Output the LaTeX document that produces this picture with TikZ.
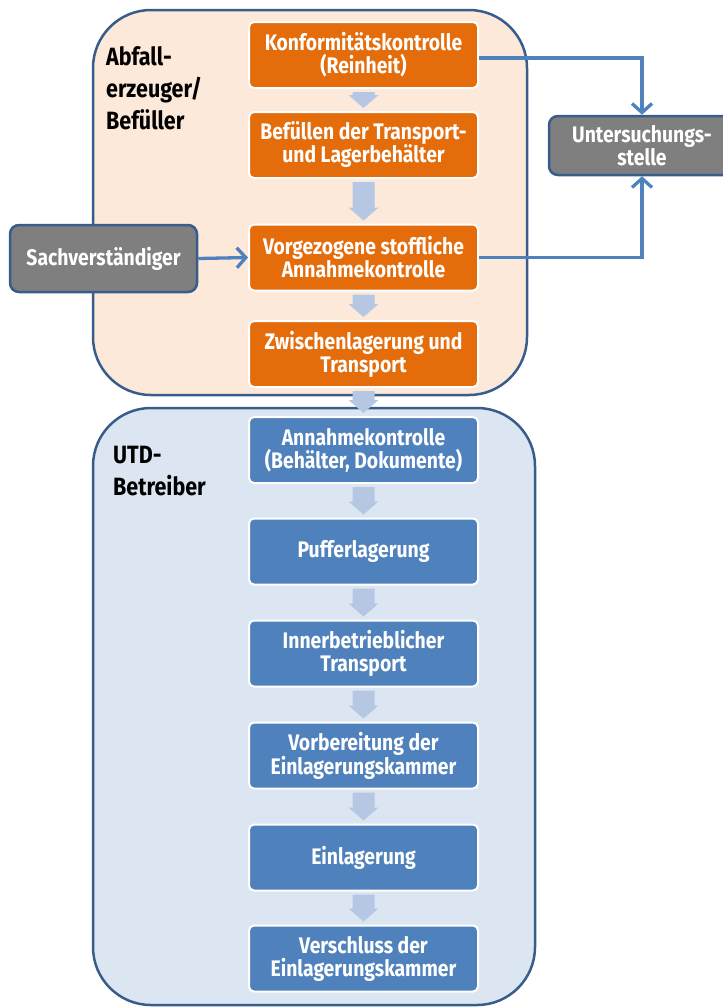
\documentclass[tikz,border=0pt]{standalone}
\usepackage{fontspec}
\setmainfont[FakeStretch=0.86]{Fira Sans}
\usetikzlibrary{arrows.meta, calc}
\definecolor{framecolor}{RGB}{56,93,138}
\definecolor{peachcolor}{RGB}{253,233,217}
\definecolor{paleblue}{RGB}{220,230,242}
\definecolor{orangecolor}{RGB}{228,108,10}
\definecolor{stepblue}{RGB}{79,129,189}
\definecolor{greycolor}{RGB}{127,127,127}
\definecolor{flowfill}{RGB}{181,199,226}

\begin{document}
\begin{tikzpicture}[
    x=1pt, y=-1pt,
    group/.style={draw=framecolor, line width=2.5pt, rounded corners=58pt},
    grouplabel/.style={anchor=north west, align=left, inner sep=0pt, font=\fontsize{25}{32}\selectfont\bfseries},
    stepbox/.style={draw=white, line width=2pt, rounded corners=5pt, minimum width=229pt, minimum height=66pt, align=center, text=white, font=\fontsize{22.5}{23}\selectfont\bfseries},
    orangebox/.style={stepbox, fill=orangecolor},
    bluebox/.style={stepbox, fill=stepblue},
    greybox/.style={draw=framecolor, line width=2.5pt, fill=greycolor, rounded corners=9pt, align=center, text=white, font=\fontsize{22.5}{23}\selectfont\bfseries},
    link/.style={-{Straight Barb[length=9pt, width=20pt]}, draw=stepblue, line width=3.3pt},
    flowarrow/.style={fill=flowfill}
]
    \useasboundingbox (0,0) rectangle (723,1007);

    % Groups
    \draw[group, fill=peachcolor] (93,10) rectangle (527,395);
    \node[grouplabel] (erzeuger) at (106,46) {Abfall-\\erzeuger/\\Befüller};

    \draw[group, fill=paleblue] (93,408) rectangle (535,1005);
    \node[grouplabel] (betreiber) at (113,446) {UTD-\\Betreiber};

    % Steps at the producer
    \node[orangebox] (konf) at (363.5,55) {Konformitätskontrolle\\(Reinheit)};
    \node[orangebox] (bef) at (363.5,145) {Befüllen der Transport-\\und Lagerbehälter};
    \node[orangebox] (vor) at (363.5,257.5) {Vorgezogene stoffliche\\Annahmekontrolle};
    \node[orangebox] (zwi) at (363.5,354) {Zwischenlagerung und\\Transport};

    % Steps at the operator
    \node[bluebox] (annahme) at (363.5,450) {Annahmekontrolle\\(Behälter, Dokumente)};
    \node[bluebox] (puffer) at (363.5,551.5) {Pufferlagerung};
    \node[bluebox] (inner) at (363.5,653.5) {Innerbetrieblicher\\Transport};
    \node[bluebox] (vorb) at (363.5,755.5) {Vorbereitung der\\Einlagerungskammer};
    \node[bluebox] (einl) at (363.5,857.5) {Einlagerung};
    \node[bluebox] (versch) at (363.5,958.5) {Verschluss der\\Einlagerungskammer};

    % Outside parties
    \node[greybox, minimum width=187pt, minimum height=67pt] (sach) at (103.5,258.5) {Sachverständiger};
    \node[greybox, minimum width=186pt, minimum height=59pt] (unters) at (642,145.5) {Untersuchungs-\\stelle};

    % Flow arrows
    \foreach \a/\b in {konf/bef, bef/vor, vor/zwi, zwi/annahme, annahme/puffer, puffer/inner, inner/vorb, vorb/einl, einl/versch}
        \fill[flowarrow] ($(\a.south)+(-11,3)$) -- ($(\a.south)+(11,3)$) -- ($(\b.north)+(11,-16)$)
            -- ($(\b.north)+(15,-16)$) -- ($(\b.north)+(0,-3)$) -- ($(\b.north)+(-15,-16)$)
            -- ($(\b.north)+(-11,-16)$) -- cycle;

    % Connections
    \draw[link] ([yshift=-3pt]konf.east) -| (unters.north);
    \draw[link] (vor.east) -| (unters.south);
    \draw[link] (sach.east) -- (vor.west);
\end{tikzpicture}
\end{document}
